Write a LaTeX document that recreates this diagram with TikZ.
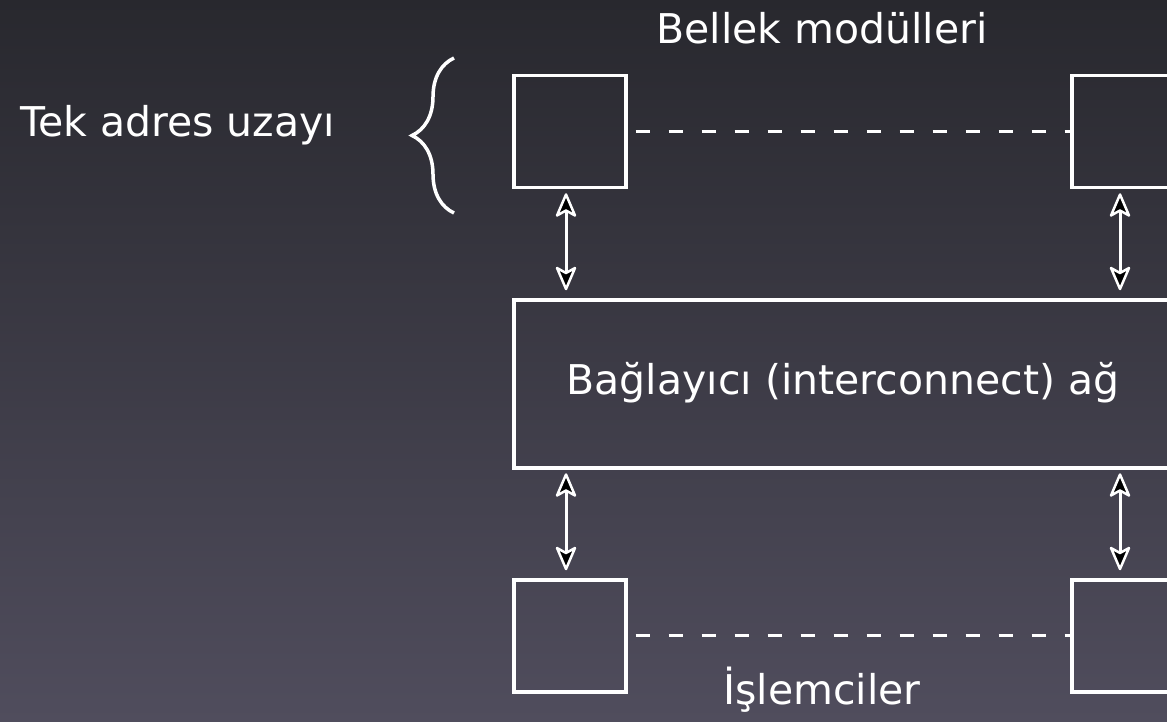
\documentclass[tikz,border=0pt]{standalone}
\usepackage{fontspec}
\setmainfont{DejaVu Sans}
\usetikzlibrary{decorations.pathreplacing}
\definecolor{bgtop}{HTML}{28282E}
\definecolor{bgbot}{HTML}{504D5D}
\begin{document}
\begin{tikzpicture}[x=1pt,y=-1pt,
  box/.style={draw=white,line width=3.5pt,minimum width=112pt,minimum height=112pt,inner sep=0pt,anchor=north west},
  lbl/.style={text=white,font=\fontsize{41}{48}\selectfont,inner sep=0pt},
  dashline/.style={draw=white,line width=3pt,dash pattern=on 14pt off 19pt,dash phase=25pt},
  shaft/.style={draw=white,line width=3pt},
  headup/.pic={\filldraw[fill=black,draw=white,line width=2.5pt,line join=round] (0,0) -- (-9,21) -- (0,16) -- (9,21) -- cycle;},
  headdown/.pic={\filldraw[fill=black,draw=white,line width=2.5pt,line join=round] (0,0) -- (-9,-21) -- (0,-16) -- (9,-21) -- cycle;}]
\useasboundingbox (0,0) rectangle (1167,722);
\shade[top color=bgtop,bottom color=bgbot] (0,0) rectangle (1167,722);
\clip (0,0) rectangle (1167,722);
\node[box] (m1) at (512,74) {};
\node[box] (m2) at (1070,74) {};
\node[box,minimum width=700pt,minimum height=168pt] (net) at (512,298) {};
\node[box] (p1) at (512,578) {};
\node[box] (p2) at (1070,578) {};
\draw[dashline] (m1.east) -- (m2.west);
\draw[dashline] (p1.east) -- (p2.west);
\coordinate (a1) at (566,0);
\coordinate (a2) at (1120,0);
% connectors: shaft + heads (yshift is in page units: negative = down)
\foreach \up/\dn/\col [count=\i] in {m1/net/a1, m2/net/a2, net/p1/a1, net/p2/a2}{
  \coordinate (t\i) at ([yshift=-5pt]\up.south -| \col);
  \coordinate (b\i) at ([yshift=9pt]\dn.north -| \col);
  \draw[shaft] ([yshift=-15pt]t\i) -- ([yshift=15pt]b\i);
  \pic at (t\i) {headup};
  \pic at (b\i) {headdown};
}
\node[lbl] (bellek) at (822,28) {Bellek modülleri};
\node[lbl] (islem) at (822,690) {İşlemciler};
\node[lbl] (netlbl) at (843,383) {Bağlayıcı (interconnect) ağ};
\node[lbl,anchor=west] (tek) at (20,125) {Tek adres uzayı};
\coordinate (bt) at (454,58);
\coordinate (bb) at (454,213);
\draw[white,line width=3.5pt,decorate,decoration={brace,amplitude=42pt,aspect=0.5}] (bb) -- (bt);
\end{tikzpicture}
\end{document}
